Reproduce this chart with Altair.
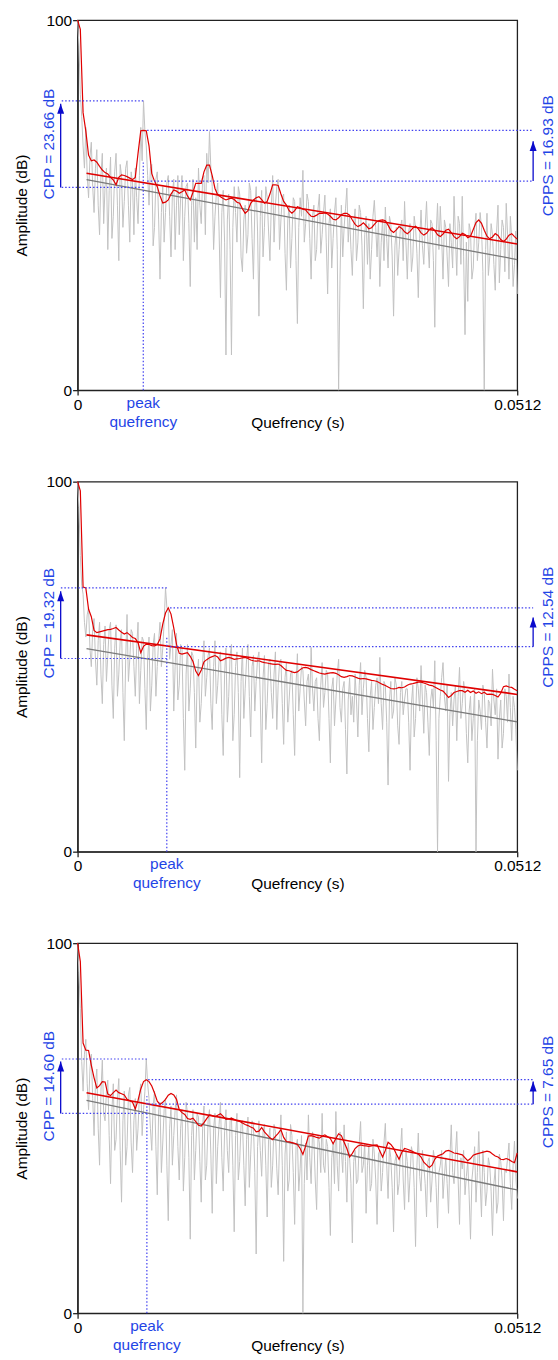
import altair as alt
import pandas as pd

# ---------------- data ----------------
STEP = 0.00032          # quefrency spacing of the plotted samples (s)
Q_MAX = 0.0512
REG_START = 0.00104     # where the regression lines begin (s)

# panel 1 -- gray cepstrum at the grid points and at the half-steps between them
gray_1 = [100, 80, 66, 71, 52, 67, 48, 65, 42, 64,
          55, 38, 63, 47, 64, 35, 58, 51, 62, 40,
          56, 60, 45, 71, 78.2, 66, 50, 61, 44, 59,
          30, 55, 48, 58, 36, 57, 50, 42, 58, 47,
          56, 28, 57, 52, 60, 45, 58, 64, 69.9, 55,
          47, 56, 25, 54, 9.5, 53, 9.5, 55, 40, 53,
          32, 50, 42, 54, 30, 55, 20, 54, 44, 52,
          35, 58, 50, 57, 46, 53, 27, 50, 41, 51,
          18, 52, 59.4, 45, 51, 30, 50, 38, 53, 42,
          52.7, 26, 49, 41, 52, 0, 50, 44, 54.6, 47,
          31, 49, 40, 48, 22, 47, 45, 38, 51.3, 36,
          28, 46, 49.5, 33, 45, 20, 44, 38, 46, 51,
          30, 45, 36, 44, 25, 48.7, 34, 51, 33, 45,
          17, 50.5, 49.7, 30, 44, 28, 40, 52.4, 31, 45,
          52.4, 15, 24, 43, 33, 47.8, 40, 44, 0, 47.8,
          36, 42, 27, 50, 38, 44, 50.5, 30, 41, 34,
          26]
gray_1_mid = [93, 74, 60, 58, 63, 55, 60, 50, 58, 45,
              60, 54, 41, 59, 50, 61, 44, 60, 50, 59,
              42, 52, 58, 62, 70, 58, 60, 39, 57, 46,
              48, 40, 56, 47, 53, 38, 58, 52, 35, 55,
              45, 50, 40, 38, 50, 57, 42, 56, 60, 38,
              53, 43, 48, 40, 46, 38, 44, 48, 55, 36,
              46, 37, 56, 41, 49, 43, 47, 36, 55, 43,
              50, 40, 55, 38, 52, 37, 46, 33, 52, 35,
              44, 47, 40, 53, 41, 47, 35, 49, 37, 48,
              40, 45, 33, 48, 38, 30, 36, 49, 40, 38,
              45, 35, 50, 39, 42, 34, 30, 47, 44, 46,
              40, 35, 41, 47, 36, 39, 31, 44, 35, 40,
              43, 32, 47, 37, 41, 39, 44, 40, 46, 35,
              42, 38, 41, 46, 36, 45, 33, 42, 47, 34,
              36, 40, 45, 30, 44, 35, 48, 32, 38, 31,
              45, 34, 43, 29, 46, 32, 42, 47, 28, 43]
red_1 = [100, 97.5, 75, 70, 63.5, 62, 62.2, 61.6, 60.5, 59.5,
         58.8, 58.4, 57.5, 56.8, 55.5, 57.5, 58.2, 58.0, 57.7, 57.3,
         56.9, 57.5, 64, 70.1, 70.2, 70.1, 66, 58.5, 56.5, 55,
         52.5, 50.6, 50.8, 51.4, 53, 54.1, 53.8, 53.2, 53.6, 54.1,
         52.5, 51.4, 53.5, 55.9, 55.9, 55.9, 59, 60.8, 60.8, 58,
         54.5, 52.8, 52.3, 51.8, 51.4, 51.7, 51.9, 51.5, 50.8, 50.5,
         49, 47.8, 48.5, 50.5, 51.4, 52, 52.3, 51.5, 50.5, 51,
         53, 55.5, 55.5, 55.3, 53, 51, 50, 48.5, 47.8, 48.5,
         49.6, 49.3, 48.9, 48.7, 47.8, 47, 46.9, 47.3, 47.8, 47.8,
         47.9, 47.6, 47.0, 46.2, 46.0, 46.6, 47.4, 47.8, 47.8, 47.3,
         46.0, 44.8, 44.2, 44.6, 45.2, 44.5, 43.6, 43.9, 44.8, 45.6,
         45.9, 46.0, 45.8, 44.6, 43.2, 42.6, 43.3, 44.2, 43.7, 42.8,
         42.3, 42.9, 43.8, 44.3, 43.6, 42.5, 41.9, 42.4, 43.4, 43.9,
         43.1, 42.0, 41.5, 42.2, 43.2, 43.5, 42.6, 41.5, 40.9, 41.5,
         42.4, 42.1, 41.2, 41.6, 43.4, 45.3, 46.0, 45.1, 43.2, 41.6,
         40.9, 41.4, 42.3, 41.8, 40.7, 40.2, 40.8, 41.9, 42.3, 41.5,
         40.8]
red_reg_1 = [58.6, 39.5]
gray_reg_1 = [56.9, 35.3]
# peak quefrency, CPP top, CPP bottom, arrow tip, top of dotted drop line
cpp_1 = [0.00765, 78.2, 54.8, 77.4, 61.7]
# smoothed peak quefrency, CPPS top, CPPS bottom, arrow tip
cpps_1 = [0.0081, 70.2, 56.5, 67.3]
labels_1 = ["CPP = 23.66 dB", "CPPS = 16.93 dB"]

# panel 2
gray_2 = [100, 80, 69.6, 58, 66, 50, 63, 45, 62, 40,
          61, 53, 62, 36, 61.3, 48, 60, 30, 64.1, 52,
          59, 42, 62, 49, 57, 33, 58, 45, 59, 50,
          62, 55, 71.3, 65, 56, 38, 59, 45, 55, 22,
          56, 44, 53, 28, 52, 40, 57, 47, 55, 33,
          57, 45, 54, 26, 55, 42, 56, 37, 54, 20,
          55, 44, 56, 31, 53, 46, 54, 24, 53, 40,
          52, 36, 54, 45, 52, 29, 51, 41, 49, 26,
          53.5, 44, 49, 34, 48, 55.2, 38, 47, 30, 51.1,
          43, 48, 24, 47, 41, 52, 35, 46, 21, 47,
          42, 48, 31, 51.1, 44, 47, 27, 46, 39, 47,
          52.5, 33, 45, 18, 46, 38, 45, 29, 46, 41,
          44, 22, 45, 36, 44, 50.3, 32, 43, 26, 44,
          51.6, 0, 42, 51.1, 38, 19, 43, 41, 30, 49.8,
          40, 43, 24, 42, 36, 0, 41, 33, 43, 28,
          40, 49.3, 37, 25, 41, 32, 42, 48, 30, 39,
          22]
gray_2_mid = [93, 72, 62, 64, 55, 60, 52, 57, 48, 56,
              46, 60, 45, 55, 42, 57, 43, 52, 46, 60,
              50, 55, 40, 58, 44, 52, 38, 56, 42, 57,
              50, 62, 66, 52, 60, 50, 41, 56, 36, 48,
              38, 54, 43, 47, 35, 51, 42, 53, 40, 50,
              40, 52, 37, 48, 35, 53, 30, 50, 43, 46,
              36, 52, 42, 50, 38, 52, 41, 47, 33, 51,
              43, 48, 33, 51, 40, 47, 35, 48, 37, 45,
              38, 50, 41, 46, 40, 44, 46, 36, 45, 39,
              49, 36, 44, 34, 48, 39, 44, 33, 41, 37,
              35, 41, 45, 37, 49, 36, 42, 33, 45, 40,
              40, 46, 35, 41, 36, 47, 34, 43, 37, 44,
              35, 40, 31, 47, 38, 41, 45, 35, 41, 39,
              30, 36, 47, 42, 45, 37, 34, 45, 42, 36,
              46, 32, 38, 30, 44, 30, 38, 45, 35, 41,
              34, 41, 44, 36, 28, 44, 35, 39, 42, 33]
red_2 = [100, 97.5, 71.5, 71.3, 65.5, 63.5, 59.8, 59.2, 59.4, 59.6,
         59.8, 60.0, 60.1, 60.3, 60.6, 59.9, 59.3, 58.8, 59.2, 58.6,
         57.9, 57.6, 56.5, 53.8, 55.5, 56.1, 56.0, 55.7, 55.6, 56.0,
         57.5, 61.5, 64.5, 65.9, 64.2, 60.5, 56.0, 53.6, 53.4, 53.6,
         53.8, 52.8, 51.4, 48.8, 47.6, 49.0, 51.3, 51.9, 52.4, 52.7,
         53.0, 52.6, 51.6, 51.9, 52.3, 52.5, 52.3, 52.0, 52.1, 52.2,
         52.4, 52.5, 52.2, 51.8, 51.6, 51.5, 51.6, 51.3, 51.1, 51.0,
         50.8, 50.7, 50.6, 50.7, 50.3, 49.6, 49.0, 48.9, 48.6, 48.4,
         48.6, 49.2, 49.7, 49.8, 49.6, 49.2, 48.9, 48.6, 48.3, 48.1,
         48.0, 48.2, 48.3, 48.4, 48.2, 47.8, 47.3, 47.1, 47.3, 47.6,
         47.5, 47.2, 46.9, 46.7, 46.8, 46.7, 46.5, 46.3, 46.2, 46.0,
         45.6, 45.2, 44.9, 44.5, 44.1, 44.0, 44.1, 44.4, 44.3, 44.5,
         45.0, 45.3, 45.4, 45.6, 45.8, 45.8, 45.6, 45.3, 45.0, 44.9,
         44.5, 44.1, 43.7, 43.4, 42.6, 41.7, 42.2, 43.0, 43.3, 43.5,
         43.5, 43.1, 43.6, 43.0, 43.4, 42.8, 43.2, 42.7, 43.1, 42.5,
         42.6, 42.5, 42.2, 41.8, 42.8, 44.6, 44.8, 44.5, 44.4, 43.9,
         43.5]
red_reg_2 = [58.6, 42.5]
gray_reg_2 = [54.9, 35.1]
cpp_2 = [0.01039, 71.3, 52.2, 70.4, 58.3]
cpps_2 = [0.01077, 65.9, 55.4, 63.3]
labels_2 = ["CPP = 19.32 dB", "CPPS = 12.54 dB"]

# panel 3
gray_3 = [100, 82.3, 60, 74, 55, 70, 48, 66, 40, 68.4,
          52, 63, 35, 62, 47, 63.4, 30, 60, 45, 61,
          38, 58, 50, 62, 55, 68.7, 58, 44, 60, 32,
          57, 46, 58, 25, 56, 48, 59, 36, 55, 42,
          54, 20, 55, 44, 53, 30, 56, 40, 55, 27,
          54, 45, 57, 33, 55, 38, 53, 22, 54, 41,
          52, 29, 53, 43, 51, 16, 52, 37, 51, 26,
          50, 40, 49, 32, 53.6, 14, 49, 36, 48, 24,
          47, 39, 0, 46, 53.6, 35, 47, 28, 46, 54,
          38, 45, 21, 46, 54.5, 33, 44, 50.9, 30, 42,
          19, 44, 36, 51.8, 40, 27, 45, 35, 43, 24,
          44, 38, 51.3, 31, 42, 22, 43, 35, 50, 28,
          41, 37, 43, 18, 48.7, 33, 40, 26, 42, 36,
          41, 23, 40, 31, 42, 27, 50.9, 35, 49.1, 24,
          39, 32, 41, 20, 40, 30, 49.1, 26, 38, 33,
          40, 21, 39, 30, 41, 25, 38, 46, 28, 46.5,
          31]
gray_3_mid = [92, 68, 70, 62, 66, 58, 62, 50, 60, 54,
              60, 48, 55, 44, 58, 44, 52, 40, 59, 46,
              52, 44, 59, 48, 60, 62, 50, 56, 45, 55,
              38, 55, 40, 50, 40, 55, 45, 50, 33, 57,
              42, 48, 36, 54, 41, 50, 36, 52, 43, 50,
              35, 51, 42, 49, 44, 52, 40, 48, 36, 51,
              40, 47, 34, 52, 38, 45, 44, 49, 40, 47,
              34, 51, 39, 46, 40, 43, 33, 51, 38, 45,
              33, 48, 35, 36, 42, 49, 36, 48, 38, 40,
              47, 34, 42, 35, 40, 49, 38, 41, 46, 35,
              41, 35, 46, 38, 46, 40, 33, 47, 36, 43,
              33, 46, 40, 45, 34, 41, 32, 44, 36, 44,
              30, 45, 34, 40, 37, 44, 35, 41, 30, 44,
              34, 38, 44, 37, 35, 42, 38, 43, 36, 42,
              44, 37, 32, 36, 45, 38, 36, 44, 29, 42,
              33, 35, 27, 43, 36, 39, 42, 35, 40, 37]
red_3 = [100, 95, 73, 71.1, 71.0, 67, 63.6, 60.9, 61.5, 62.6,
         62.5, 59.2, 58.8, 59.6, 60.3, 59.6, 59.3, 59.0, 57.8, 57.4,
         57.0, 55.2, 57.5, 60.6, 62.6, 63.1, 62.6, 61.4, 59.5, 57.3,
         56.4, 57.0, 57.8, 58.9, 59.4, 59.0, 57.8, 55.0, 54.2, 53.7,
         52.6, 52.4, 52.7, 51.8, 50.8, 50.6, 51.5, 52.6, 53.6, 53.4,
         53.1, 53.5, 53.9, 53.2, 52.4, 52.5, 52.7, 52.4, 52.0, 51.8,
         51.4, 51.0, 50.7, 50.3, 50.0, 49.0, 49.2, 50.2, 49.0, 48.2,
         47.4, 46.9, 47.8, 48.6, 49.6, 47.5, 46.4, 46.3, 46.1, 45.9,
         45.6, 44.5, 42.9, 45.2, 47.9, 48.0, 47.8, 47.5, 47.3, 47.8,
         48.2, 47.7, 47.2, 45.8, 47.2, 48.5, 48.0, 46.2, 44.5, 42.2,
         43.2, 44.5, 45.2, 45.5, 45.3, 45.2, 45.1, 45.2, 45.4, 45.5,
         43.8, 42.2, 44.0, 46.2, 45.6, 44.6, 43.0, 41.6, 43.5, 44.5,
         44.3, 44.0, 43.7, 43.3, 43.0, 42.2, 40.8, 40.1, 39.4, 40.0,
         41.6, 42.5, 42.8, 43.1, 43.8, 44.0, 43.7, 43.3, 43.2, 43.0,
         42.8, 42.0, 41.2, 41.8, 42.7, 43.0, 43.2, 43.4, 43.6, 43.8,
         43.6, 43.0, 42.5, 42.2, 41.6, 41.5, 41.8, 41.5, 41.0, 40.7,
         43.3]
red_reg_3 = [59.6, 38.2]
gray_reg_3 = [57.5, 33.3]
cpp_3 = [0.00807, 68.7, 54.0, 68.0, 58.6]
cpps_3 = [0.00822, 63.1, 56.5, 62.6]
labels_3 = ["CPP = 14.60 dB", "CPPS = 7.65 dB"]

# ---------------- styling ----------------
FONT = "Liberation Sans"
FS = 15.5
BLUE_TEXT = "#1f45e6"
BLUE_DOT = "#4040f0"
BLUE_ARROW = "#0a0acc"
W, H = 442, 372
ARROW_L, ARROW_R = -17, 458      # pixel offsets of the annotation arrows
TEXT_L, TEXT_R = -23.7, 478       # pixel offsets of the rotated labels
HEAD = "M0,0L-0.35,1L0.35,1Z"

xs = alt.Scale(domain=[0, Q_MAX], nice=False, zero=False)
ys = alt.Scale(domain=[0, 100], nice=False, zero=False)
xax = alt.Axis(values=[0, Q_MAX], format=".4~f", title="Quefrency (s)",
               labelFlush=False, grid=False, labelPadding=2,
               titleX=W / 2, titleY=37.5, titleBaseline="alphabetic",
               titleAlign="center")
yax = alt.Axis(values=[0, 100], format="d", title="Amplitude (dB)",
               labelFlush=False, grid=False, labelPadding=1,
               titleX=-48.5, titleY=H / 2, titleAngle=270,
               titleBaseline="bottom", titleAlign="center")
X = alt.X("q:Q", scale=xs, axis=xax)
Y = alt.Y("v:Q", scale=ys, axis=yax)


def panel(gray, gray_mid, red, red_reg, gray_reg, cpp, cpps, labels):
    q = [i * STEP for i in range(len(gray))]
    q_mid = [(i + 0.5) * STEP for i in range(len(gray_mid))]
    gray_df = (pd.DataFrame({"q": q + q_mid, "v": gray + gray_mid})
               .sort_values("q").reset_index(drop=True))
    red_df = pd.DataFrame({"q": q, "v": red})
    rr_df = pd.DataFrame({"q": [REG_START, Q_MAX], "v": red_reg})
    gr_df = pd.DataFrame({"q": [REG_START, Q_MAX], "v": gray_reg})
    cq, ctop, cbot, ctip, cvtop = cpp
    sq, stop, sbot, stip = cpps
    dotted = dict(color=BLUE_DOT, strokeDash=[1.5, 2], strokeWidth=1.2)
    label_style = dict(angle=270, align="center", baseline="alphabetic",
                       font=FONT, fontSize=FS, color=BLUE_TEXT)

    layers = [
        alt.Chart(gray_df).mark_line(color="#c2c2c2", strokeWidth=1).encode(x=X, y=Y),
        alt.Chart(gr_df).mark_line(color="#7a7a7a", strokeWidth=1.3).encode(x=X, y=Y),
        alt.Chart(rr_df).mark_line(color="#e00000", strokeWidth=1.6).encode(x=X, y=Y),
        alt.Chart(red_df).mark_line(color="#e00000", strokeWidth=1.2).encode(x=X, y=Y),
        # dotted guide lines
        alt.Chart(pd.DataFrame({"q": [cq, cq], "v": [ctop, cbot]}))
        .mark_rule(**dotted).encode(x=X, x2=alt.value(ARROW_L), y=Y),
        alt.Chart(pd.DataFrame({"q": [sq, sq], "v": [stop, sbot]}))
        .mark_rule(**dotted).encode(x=X, x2=alt.value(ARROW_R), y=Y),
        alt.Chart(pd.DataFrame({"q": [cq], "v": [0], "v2": [cvtop]}))
        .mark_rule(**dotted).encode(x=X, y=Y, y2="v2:Q"),
        # arrows
        alt.Chart(pd.DataFrame({"v": [cbot], "v2": [ctip]}))
        .mark_rule(color=BLUE_ARROW, strokeWidth=1.3)
        .encode(x=alt.value(ARROW_L), y=Y, y2="v2:Q"),
        alt.Chart(pd.DataFrame({"v": [ctip]}))
        .mark_point(shape=HEAD, filled=True, size=400, color=BLUE_ARROW, opacity=1)
        .encode(x=alt.value(ARROW_L), y=Y),
        alt.Chart(pd.DataFrame({"v": [sbot], "v2": [stip]}))
        .mark_rule(color=BLUE_ARROW, strokeWidth=1.3)
        .encode(x=alt.value(ARROW_R), y=Y, y2="v2:Q"),
        alt.Chart(pd.DataFrame({"v": [stip]}))
        .mark_point(shape=HEAD, filled=True, size=400, color=BLUE_ARROW, opacity=1)
        .encode(x=alt.value(ARROW_R), y=Y),
        # labels
        alt.Chart(pd.DataFrame({"v": [(ctop + cbot) / 2], "t": [labels[0]]}))
        .mark_text(**label_style).encode(x=alt.value(TEXT_L), y=Y, text="t:N"),
        alt.Chart(pd.DataFrame({"v": [(stop + sbot) / 2], "t": [labels[1]]}))
        .mark_text(**label_style).encode(x=alt.value(TEXT_R), y=Y, text="t:N"),
        alt.Chart(pd.DataFrame({"q": [cq], "v": [0], "t": ["peak\nquefrency"]}))
        .mark_text(align="center", baseline="alphabetic", dy=17.5, lineBreak="\n",
                   lineHeight=19.5, font=FONT, fontSize=FS, color=BLUE_TEXT)
        .encode(x=X, y=Y, text="t:N"),
    ]
    return alt.layer(*layers).properties(width=W, height=H)


p1 = panel(gray_1, gray_1_mid, red_1, red_reg_1, gray_reg_1, cpp_1, cpps_1, labels_1)
p2 = panel(gray_2, gray_2_mid, red_2, red_reg_2, gray_reg_2, cpp_2, cpps_2, labels_2)
p3 = panel(gray_3, gray_3_mid, red_3, red_reg_3, gray_reg_3, cpp_3, cpps_3, labels_3)

chart = (
    alt.vconcat(p1, p2, p3, spacing=92, bounds="flush")
    .properties(padding={"left": 13, "top": 8.6, "right": 0, "bottom": 0},
                background="white")
    .configure_view(stroke="#222222", strokeWidth=1.3)
    .configure_axis(labelFont=FONT, labelFontSize=FS, labelColor="black",
                    titleFont=FONT, titleFontSize=FS, titleFontWeight="normal",
                    titleColor="black", domainColor="#222222", domainWidth=1.3,
                    tickColor="#222222", tickWidth=1.3, tickSize=5)
)

chart.save("out.html", embed_options={"renderer": "svg", "actions": False})
